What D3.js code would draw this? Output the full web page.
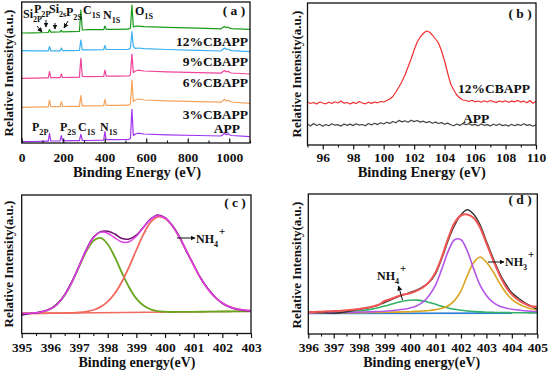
<!DOCTYPE html>
<html><head><meta charset="utf-8">
<script src="https://cdn.jsdelivr.net/npm/d3@7"></script>
<style>
body{margin:0;background:#fff;}
svg text{font-family:"Liberation Serif","Times New Roman",serif;font-weight:bold;fill:#111;}
</style></head><body>
<svg id="c" width="550" height="371"></svg>
<script>
// ---------- (a) survey spectra ----------
const surveyEnergy = [0,60,120,128,134,140,150,185,191,197,240,278,285,292,320,395,401,407,450,515,524,531,538,548,560,590,700,850,960,970,978,986,995,1003,1012,1100];
const surveyAPP  = [1.3,1.5,1.8,1.8,9.7,2.0,2.0,2.1,7.3,2.2,2.3,2.4,8.7,2.5,2.5,2.8,11.3,3.3,3.3,3.5,4.5,33.7,7.5,9.0,9.8,9.0,8.2,7.5,7.0,8.5,9.7,8.2,9.2,8.0,7.5,6.3];
const survey3    = [35.7,35.9,36.1,36.1,43,36.3,36.3,36.4,41.3,36.5,36.6,36.7,47.3,37.2,37.2,37.3,43.7,37.6,37.6,37.8,39,63,41.5,43,44,43,42.2,41.3,40.8,42.5,43.7,42,42.8,41.5,41,39.7];
const survey6    = [64.7,64.9,65.1,65.1,71.3,65.3,65.3,65.4,69,65.5,65.6,65.8,84.7,66.5,66.4,66.5,73,66.8,66.8,67,68,89,70.5,72,72.8,72,71.2,70.3,69.8,71.5,72.5,71,71.8,70.5,70,69];
const survey9    = [92.3,92.2,92.1,92.1,96.5,92.2,92.2,92.2,95,92.3,92.4,92.5,103,93.2,93.2,93.3,97.5,93.5,93.5,93.7,95,111.3,96.5,94.5,95,94.3,93.5,92.6,92,93.7,95,93.5,94,92.8,92.4,91.3];
const survey12   = [110,110.2,110.5,110.6,113.5,110.8,110.8,111,112.5,111.2,111.3,111.5,133,113,113.3,113.4,117,113.6,113.6,113.8,115,138,116,116.8,116.8,116.3,115.6,114.8,114.2,115.6,116.5,115.3,115.8,114.8,114.4,113.7];
const surveyNames = ["APP","3%CBAPP","6%CBAPP","9%CBAPP","12%CBAPP"];
const surveyTicks = [0,200,400,600,800,1000];
const surveyMinor = [100,300,500,700,900,1100];

// ---------- (b) P2p ----------
const p2pEnergy = [95,95.2,95.4,95.6,95.8,96,96.2,96.4,96.6,96.8,97,97.2,97.4,97.6,97.8,98,98.2,98.4,98.6,98.8,99,99.2,99.4,99.6,99.8,100,100.2,100.4,100.6,100.8,101,101.2,101.4,101.6,101.8,102,102.2,102.4,102.6,102.8,103,103.2,103.4,103.6,103.8,104,104.2,104.4,104.6,104.8,105,105.2,105.4,105.6,105.8,106,106.2,106.4,106.6,106.8,107,107.2,107.4,107.6,107.8,108,108.2,108.4,108.6,108.8,109,109.2,109.4,109.6,109.8,110];
const p2pCB12 = [43,41.5,42.5,41,43,42,41.2,42.8,41.5,43.2,42,44,41.8,42.5,41,42.6,41.5,43.5,42,41.2,42.8,41.6,43,42.2,43.5,43,44.5,46,48.5,53,58,63.5,70,78,86,95,103,108,111.5,114,113,110,106,102,94,84,72,61,55,50,47,45,44.5,43.5,44.8,43.2,44,42.8,44.2,43,44.5,43.4,42.6,44,43.1,44.3,42.8,43.9,43.2,44.6,42.9,43.8,42.2,44.5,41.8,43.5];
const p2pAPP  = [21,19,21.5,19.5,20.8,18.8,20.5,19.2,21.2,19.8,20.3,18.9,21,19.6,20.9,19.4,21.3,19.8,20.5,19.2,21.5,20.1,21.8,20.4,22.3,21,22.8,21.6,23.5,22.2,24.6,23.1,24.2,22.8,24.8,23.4,24.5,22.9,23.8,22.4,23.5,21.8,22.9,21.5,22.4,20.8,21.9,20.3,19.2,21,19.6,21.6,20.2,21.4,19.8,20.6,19.3,21.1,19.7,20.4,19.1,20.8,19.5,21,19.4,20.2,18.9,20.7,19.3,20.6,19.5,21.2,19.6,20.3,18.8,20.2];
const p2pTicks = [96,98,100,102,104,106,108,110];
const p2pMinor = [95,97,99,101,103,105,107,109];

// ---------- (c) N1s of APP ----------
const n1sEnergyC = [395,395.25,395.5,395.75,396,396.25,396.5,396.75,397,397.25,397.5,397.75,398,398.25,398.5,398.75,399,399.25,399.5,399.75,400,400.25,400.5,400.75,401,401.25,401.5,401.75,402,402.25,402.5,402.75,403];
const n1sRawC   = [18.5,19.8,20.6,22.2,24.8,29.9,38.9,51.8,67.5,83.8,96.2,101.8,102.3,99.5,95,94.5,98.3,106.5,114.6,118.6,116,108.2,96.8,82.2,68.6,55,44.8,36.5,30.2,26.5,24.3,23,22.6];
const n1sFitC   = [20.05,20.3,20.7,21.9,24.5,29.5,38.3,51.1,67.1,83.2,95.6,101.4,100.3,95.6,91.5,91.8,97.3,106.1,114.2,117.8,115.5,107.9,96.4,82.5,68.2,55.2,44.3,36.2,30.5,26.8,24.6,23.4,22.8];
const n1sGreenC = [20.05,20.3,20.7,21.9,24.5,29.5,38.2,50.9,66.6,81.9,92.8,95.6,89.3,76.3,60.5,46,34.9,28,24.2,22.4,21.8,21.5,21.6,21.6,21.7,21.75,21.8,21.9,22,22,22.1,22.2,22.2];
const n1sNH4C   = [20,20.1,20.1,20.2,20.3,20.4,20.5,20.7,21.1,21.9,23.5,26.6,31.8,40.2,52,66.9,83.5,99.3,111.3,116.7,115.1,107.9,96.3,82.5,68.2,55.2,44.3,36.2,30.5,26.8,24.6,23.4,22.8];
const bgEnergyC = [395,403];
const bgC       = [20,22.3];
const ticksC = [395,396,397,398,399,400,401,402,403];
const minorC = [395.5,396.5,397.5,398.5,399.5,400.5,401.5,402.5];

// ---------- (d) N1s of 12%CBAPP ----------
const n1sEnergyD = [396,396.25,396.5,396.75,397,397.25,397.5,397.75,398,398.25,398.5,398.75,399,399.25,399.5,399.75,400,400.25,400.5,400.75,401,401.25,401.5,401.75,402,402.25,402.5,402.75,403,403.25,403.5,403.75,404,404.25,404.5,404.75,405];
const n1sRawD    = [21.7,21.5,21.3,21,20.7,21.2,22.3,23.5,24.7,25.7,27.1,29.1,31.5,34.2,36.9,39.3,41.5,43.9,47.2,51.7,60.2,75.7,93.7,108.7,119.2,124.2,119.7,109.2,92.7,76.7,61.7,50.2,41.2,36,31.5,28,24.5];
const n1sFitD    = [21.9,22.1,22.3,22.7,22.9,23.2,23.8,24.2,25.1,25.9,27.3,29,33,35,37.5,39.5,40.8,43.2,46.5,52.2,61.5,77.2,95.8,111.2,118.5,119.5,116,106.5,90.6,74.7,59.9,47.8,39.4,34,30.3,27.8,27.3];
const n1sNH4D    = [21.1,21.2,21.3,21.5,21.7,21.9,22.2,22.6,23.2,23.9,24.9,26.3,27.9,29.7,31.5,33,33.8,33.9,33.1,31.6,29.7,27.7,26,24.7,23.7,23,22.5,22.1,21.8,21.6,21.5,21.4,21.3,21.2,21.2,21.1,21.1];
const n1sMidD    = [21.1,21.2,21.3,21.4,21.4,21.5,21.7,21.7,21.9,22,22.3,22.5,22.8,23.3,24,24.8,26.1,28.1,31.8,38.5,48.8,65.1,82.9,94.3,94.3,82.9,65.1,48.8,38.5,31.8,28.1,26.1,24.8,24,23.3,22.8,22.5];
const n1sNH3D    = [21.1,21.1,21.1,21.2,21.2,21.2,21.3,21.3,21.4,21.4,21.5,21.6,21.7,21.8,21.9,22.1,22.3,22.6,23,23.5,24.4,25.8,28.3,33.6,43.2,58.4,71.4,77,71.7,62.7,51.7,41.7,34.7,30.2,27.2,25.3,24.1];
const bgEnergyD = [396,404];
const bgD       = [20.5,20.9];
const ticksD = [396,397,398,399,400,401,402,403,404,405];
const minorD = [396.5,397.5,398.5,399.5,400.5,401.5,402.5,403.5,404.5];

// ---------- drawing ----------
const svg = d3.select("#c");
const defs = svg.append("defs");
defs.append("marker").attr("id","ah").attr("viewBox","0 0 10 10").attr("refX",9).attr("refY",5)
  .attr("markerWidth",5).attr("markerHeight",5).attr("orient","auto")
  .append("path").attr("d","M0,0 L10,5 L0,10 z").attr("fill","#111");

function makePanel(box, xd, yd){
  return {box, x:d3.scaleLinear().domain(xd).range([box.l,box.r]), y:d3.scaleLinear().domain(yd).range([box.b,box.t])};
}
function frame(p){
  svg.append("rect").attr("x",p.box.l).attr("y",p.box.t).attr("width",p.box.r-p.box.l).attr("height",p.box.b-p.box.t)
    .attr("fill","none").attr("stroke","#111").attr("stroke-width",1.3);
}
function xAxis(p, major, minor, inward, pad, fs){
  const g = svg.append("g").attr("transform",`translate(0,${p.box.b})`);
  g.call(d3.axisBottom(p.x).tickValues(major).tickSize(inward?-4.5:4.5).tickPadding(pad).tickFormat(d3.format("d")));
  g.select(".domain").remove();
  g.selectAll(".tick line").attr("stroke","#111").attr("stroke-width",1.2);
  g.selectAll(".tick text").style("font-size",(fs||13.5)+"px").attr("fill","#111");
  const g2 = svg.append("g").attr("transform",`translate(0,${p.box.b})`);
  g2.call(d3.axisBottom(p.x).tickValues(minor).tickSize(inward?-2.5:2.5).tickFormat(()=>""));
  g2.select(".domain").remove();
  g2.selectAll(".tick line").attr("stroke","#111").attr("stroke-width",1.1);
}
function series(p, xs, ys, color, w, curve){
  const line = d3.line().x((d,i)=>p.x(xs[i])).y((d,i)=>p.y(ys[i])).curve(curve||d3.curveLinear);
  svg.append("path").datum(ys).attr("d",line).attr("fill","none").attr("stroke",color).attr("stroke-width",w).attr("stroke-linejoin","round");
}
function txt(x,y,s,size,anchor,rot){
  const t = svg.append("text").attr("x",x).attr("y",y).text(s).style("font-size",size+"px").attr("text-anchor",anchor||"start");
  if(rot) t.attr("transform",`rotate(-90,${x},${y})`);
  return t;
}
function chem(x,y,main,sub,sup,size){
  const t = svg.append("text").attr("x",x).attr("y",y).style("font-size",size+"px");
  t.append("tspan").text(main);
  if(sub) t.append("tspan").text(sub).attr("dy",size*0.3).style("font-size",(size*0.68)+"px");
  if(sup) t.append("tspan").text(sup).attr("dy",-size*0.95).attr("dx",1).style("font-size",(size*0.9)+"px");
}
function arrow(x1,y1,x2,y2){
  svg.append("line").attr("x1",x1).attr("y1",y1).attr("x2",x2).attr("y2",y2).attr("stroke","#111").attr("stroke-width",1).attr("marker-end","url(#ah)");
}

// Panel a
const pa = makePanel({l:21.7,r:250,t:2,b:143},[0,1100],[0,141]);
const surveyData = [surveyAPP,survey3,survey6,survey9,survey12];
const surveyColors = ["#a033f0","#f7a35c","#f0439a","#3cb0f0","#1a9c1a"];
surveyData.forEach((s,i)=>series(pa,surveyEnergy,s,surveyColors[i],1.2));
frame(pa);
xAxis(pa,surveyTicks,surveyMinor,true,9);
txt(137,177,"Binding Energy (eV)",14.5,"middle");
txt(12.5,73,"Relative Intensity(a.u.)",13,"middle",true);
txt(248,46,surveyNames[4],13.5,"end");
txt(248,66,surveyNames[3],13.5,"end");
txt(248,87,surveyNames[2],13.5,"end");
txt(248,119,surveyNames[1],13.5,"end");
txt(240,133,surveyNames[0],13.5,"end");
txt(234,15,"( a )",13.5,"middle");
chem(23,18,"Si","2P",null,12);
chem(34,13,"P","2P",null,12);
chem(49,13,"Si","2s",null,12);
chem(66,16,"P","2S",null,12);
chem(83,14,"C","1S",null,12);
chem(103,19,"N","1S",null,12);
chem(135,15,"O","1S",null,12);
arrow(37,26,42,32);
arrow(46,20,46,27);
arrow(55,23,55,29);
arrow(68,21,64,28);
chem(32,131,"P","2P",null,12);
chem(60,131,"P","2S",null,12);
chem(78,131,"C","1S",null,12);
chem(100,131,"N","1S",null,12);

// Panel b
const pb = makePanel({l:307.5,r:536,t:3,b:145},[95,110],[0,142]);
series(pb,p2pEnergy,p2pAPP,"#444",1.2);
series(pb,p2pEnergy,p2pCB12,"#f03030",1.2);
frame(pb);
xAxis(pb,p2pTicks,p2pMinor,false,3);
txt(421.7,177,"Binding Energy (eV)",14.5,"middle");
txt(301,74,"Relative Intensity(a.u.)",13,"middle",true);
txt(530,93,"12%CBAPP",13.5,"end");
txt(463,123,"APP",13.5,"start");
txt(520,18,"( b )",13.5,"middle");

// Panel c
const pc = makePanel({l:21.7,r:251,t:195,b:333.5},[395,403],[0,138.5]);
const sm = d3.curveCatmullRom.alpha(0.5);
series(pc,bgEnergyC,bgC,"#f06a60",1.5);
series(pc,n1sEnergyC,n1sGreenC,"#6aa51e",1.8,sm);
series(pc,n1sEnergyC,n1sNH4C,"#f06a60",1.8,sm);
series(pc,n1sEnergyC,n1sRawC,"#701070",1.5,sm);
series(pc,n1sEnergyC,n1sFitC,"#e040e8",1.5,sm);
frame(pc);
xAxis(pc,ticksC,minorC,false,4,13.5);
txt(137,367,"Binding energy(eV)",14,"middle");
txt(12.5,264,"Relative Intensity(a.u.)",13,"middle",true);
txt(235,207,"( c )",13.5,"middle");
arrow(177,238,195,238);
chem(196,243,"NH","4","+",12);

// Panel d
const pd = makePanel({l:308.3,r:537.3,t:194,b:334},[396,405],[0,140]);
series(pd,bgEnergyD,bgD,"#2a7fd4",1.6);
series(pd,n1sEnergyD,n1sNH4D,"#33b06a",1.6,sm);
series(pd,n1sEnergyD,n1sNH3D,"#d9a520",1.6,sm);
series(pd,n1sEnergyD,n1sMidD,"#b455e8",1.6,sm);
series(pd,n1sEnergyD,n1sRawD,"#333",1.4,sm);
series(pd,n1sEnergyD,n1sFitD,"#f05555",2,sm);
frame(pd);
xAxis(pd,ticksD,minorD,false,4,13.5);
txt(421.7,367,"Binding energy(eV)",14,"middle");
txt(301,265,"Relative Intensity(a.u.)",13,"middle",true);
txt(520,204,"( d )",13.5,"middle");
arrow(402.5,300,398.5,286);
chem(377,280,"NH","4","+",12);
arrow(488,262,504,262);
chem(505,266,"NH","3","+",12);
</script>
</body></html>
